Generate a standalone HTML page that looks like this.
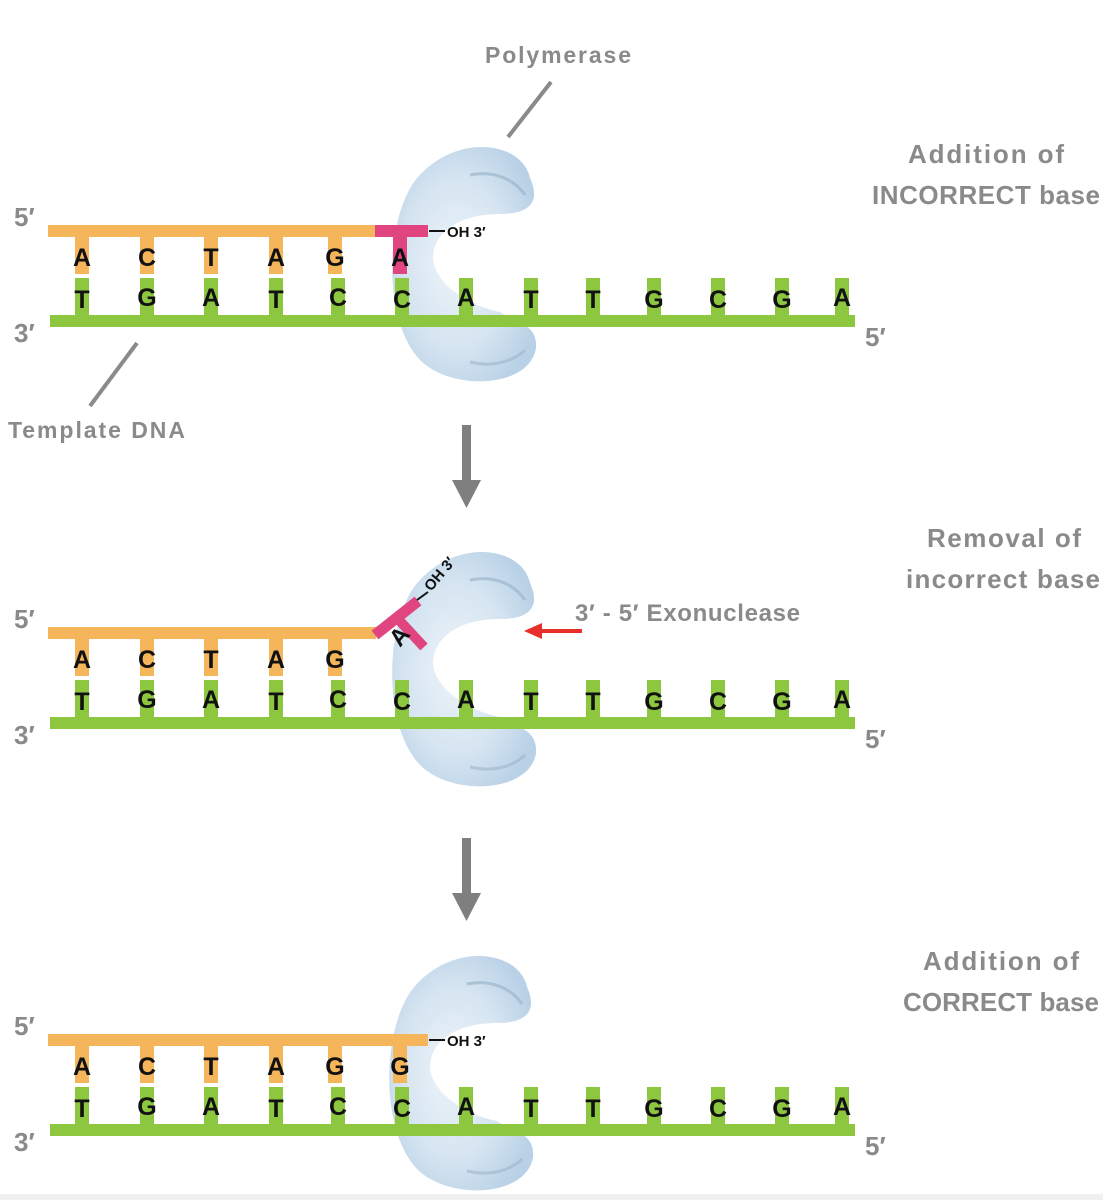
<!DOCTYPE html>
<html><head><meta charset="utf-8"><style>
html,body{margin:0;padding:0;background:#fff;width:1103px;height:1200px;overflow:hidden}
svg text{font-family:"Liberation Sans",sans-serif;font-weight:bold}
</style></head><body>
<svg width="1103" height="1200" viewBox="0 0 1103 1200" xmlns="http://www.w3.org/2000/svg">
<defs>
<radialGradient id="pg" cx="0.45" cy="0.5" r="0.6">
<stop offset="0" stop-color="#eef4fa"/><stop offset="0.6" stop-color="#d6e5f1"/><stop offset="1" stop-color="#b9d1e6"/>
</radialGradient>
<g id="poly">
<path d="M530 178 C522 140 452 132 414 182 C384 226 384 322 420 360 C452 392 530 388 536 348 C538 322 512 322 500 312 C468 306 432 282 433 256 C436 226 468 214 500 214 C532 214 540 200 530 178 Z" fill="url(#pg)"/>
<path d="M470 175 C495 170 515 180 525 195" stroke="#9db6cc" stroke-width="3" fill="none" opacity="0.7"/>
<path d="M470 362 C495 368 515 360 525 350" stroke="#9db6cc" stroke-width="3" fill="none" opacity="0.6"/>
</g>
<g id="tmpl" font-size="25">
<rect x="50" y="315" width="805" height="12" fill="#8dc63f"/>
<g fill="#8dc63f">
<rect x="75" y="278" width="14" height="40"/><rect x="140" y="278" width="14" height="40"/><rect x="204" y="278" width="14" height="40"/><rect x="269" y="278" width="14" height="40"/><rect x="331" y="278" width="14" height="40"/><rect x="395" y="278" width="14" height="40"/><rect x="459" y="278" width="14" height="40"/><rect x="524" y="278" width="14" height="40"/><rect x="586" y="278" width="14" height="40"/><rect x="647" y="278" width="14" height="40"/><rect x="711" y="278" width="14" height="40"/><rect x="775" y="278" width="14" height="40"/><rect x="835" y="278" width="14" height="40"/>
</g>
<g fill="#111" text-anchor="middle">
<text x="82" y="308">T</text><text x="147" y="306">G</text><text x="211" y="306">A</text><text x="276" y="308">T</text><text x="338" y="306">C</text><text x="402" y="308">C</text><text x="466" y="306">A</text><text x="531" y="308">T</text><text x="593" y="308">T</text><text x="654" y="308">G</text><text x="718" y="308">C</text><text x="782" y="308">G</text><text x="842" y="306">A</text>
</g>
<text x="14" y="342" fill="#8a8a8a" font-size="26" font-weight="normal">3′</text>
<text x="865" y="346" fill="#8a8a8a" font-size="26" font-weight="normal">5′</text>
<text x="14" y="226" fill="#8a8a8a" font-size="26" font-weight="normal">5′</text>
</g>
<g id="prim" font-size="25">
<g fill="#f5b55a">
<rect x="75" y="236" width="14" height="38"/><rect x="140" y="236" width="14" height="38"/><rect x="204" y="236" width="14" height="38"/><rect x="269" y="236" width="14" height="38"/><rect x="328" y="236" width="14" height="38"/>
</g>
<g fill="#111" text-anchor="middle">
<text x="82" y="266">A</text><text x="147" y="266">C</text><text x="211" y="266">T</text><text x="276" y="266">A</text><text x="335" y="266">G</text>
</g>
</g>
</defs>

<!-- Panel 1 -->
<use href="#poly"/>
<use href="#tmpl"/>
<rect x="48" y="225" width="328" height="12" fill="#f5b55a"/>
<use href="#prim"/>
<rect x="375" y="225" width="53" height="12" fill="#e0457f"/>
<rect x="393" y="236" width="14" height="38" fill="#e0457f"/>
<text x="400" y="266" font-size="25" text-anchor="middle" fill="#111">A</text>
<line x1="429" y1="231" x2="445" y2="231" stroke="#111" stroke-width="2"/>
<text x="447" y="237" font-size="15" fill="#111">OH 3′</text>

<!-- Panel 2 -->
<g transform="translate(0,402)">
<use href="#poly" transform="translate(0,3)"/>
<use href="#tmpl"/>
<rect x="48" y="225" width="328" height="12" fill="#f5b55a"/>
<use href="#prim"/>
<line x1="375" y1="233" x2="418" y2="199" stroke="#e0457f" stroke-width="11"/>
<line x1="398" y1="217" x2="424" y2="245" stroke="#e0457f" stroke-width="10"/>
<text x="0" y="0" font-size="24" fill="#111" transform="translate(400,246) rotate(-50)">A</text>
<line x1="417" y1="198" x2="428" y2="190" stroke="#111" stroke-width="2"/>
<text x="0" y="0" font-size="15" fill="#111" transform="translate(431,190) rotate(-50)">OH 3′</text>
</g>
<line x1="582" y1="631" x2="538" y2="631" stroke="#e8302a" stroke-width="4"/>
<polygon points="524,631 542,623 542,639" fill="#e8302a"/>
<text x="575" y="621" font-size="24" font-weight="normal" fill="#8a8a8a" textLength="225">3′ - 5′ Exonuclease</text>

<!-- Panel 3 -->
<g transform="translate(0,809)">
<use href="#poly" transform="translate(-3,0)"/>
<use href="#tmpl"/>
<rect x="48" y="225" width="380" height="12" fill="#f5b55a"/>
<use href="#prim"/>
<rect x="393" y="236" width="14" height="38" fill="#f5b55a"/>
<text x="400" y="266" font-size="25" text-anchor="middle" fill="#111">G</text>
<line x1="429" y1="231" x2="445" y2="231" stroke="#111" stroke-width="2"/>
<text x="447" y="237" font-size="15" fill="#111">OH 3′</text>
</g>

<!-- labels -->
<text x="558" y="63" font-size="23" fill="#8a8a8a" text-anchor="middle" textLength="146">Polymerase</text>
<line x1="551" y1="82" x2="508" y2="137" stroke="#8a8a8a" stroke-width="4"/>
<text x="8" y="438" font-size="23" fill="#8a8a8a" textLength="177">Template DNA</text>
<line x1="137" y1="343" x2="90" y2="406" stroke="#8a8a8a" stroke-width="4"/>

<g fill="#8a8a8a" font-size="26" text-anchor="middle">
<text x="986" y="163" textLength="156">Addition of</text>
<text x="986" y="204" textLength="228">INCORRECT base</text>
<text x="1004" y="547" textLength="154">Removal of</text>
<text x="1003" y="588" textLength="194">incorrect base</text>
<text x="1001" y="970" textLength="156">Addition of</text>
<text x="1001" y="1011" textLength="196">CORRECT base</text>
</g>

<!-- down arrows -->
<rect x="462" y="425" width="9" height="56" fill="#7f7f7f"/>
<polygon points="452,480 481,480 466.5,508" fill="#7f7f7f"/>
<rect x="462" y="838" width="9" height="56" fill="#7f7f7f"/>
<polygon points="452,893 481,893 466.5,921" fill="#7f7f7f"/>
<rect x="0" y="1194" width="1103" height="6" fill="#f0f0f0"/>
</svg>
</body></html>
